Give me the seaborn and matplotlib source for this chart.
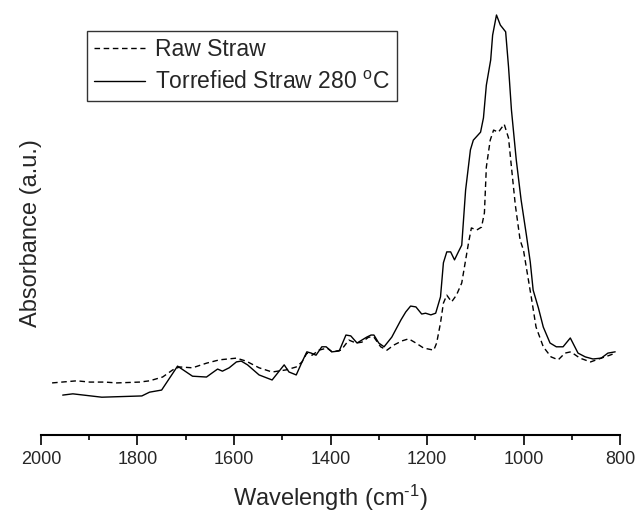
import numpy as np
import pandas as pd
import matplotlib
matplotlib.use("Agg")
import matplotlib.pyplot as plt
import seaborn as sns

# --- data ---
raw_wn = [1977, 1926, 1899, 1868, 1843, 1796, 1775, 1748, 1727, 1713, 1686, 1657, 1630,
          1595, 1575, 1548, 1521, 1492, 1471, 1459, 1449, 1438, 1424, 1407, 1397, 1378,
          1362, 1347, 1335, 1321, 1310, 1296, 1283, 1269, 1252, 1238, 1223, 1207, 1186,
          1180, 1172, 1166, 1159, 1149, 1139, 1128, 1114, 1108, 1097, 1087, 1081, 1077,
          1069, 1062, 1052, 1040, 1031, 1025, 1017, 1007, 1000, 994, 984, 974, 959, 943,
          928, 914, 902, 883, 861, 839, 821, 810]
raw_abs = [0.124, 0.129, 0.126, 0.126, 0.124, 0.126, 0.129, 0.138, 0.155, 0.162, 0.160,
           0.171, 0.179, 0.183, 0.176, 0.160, 0.150, 0.155, 0.162, 0.174, 0.195, 0.190,
           0.202, 0.207, 0.198, 0.202, 0.226, 0.219, 0.221, 0.233, 0.233, 0.210, 0.202,
           0.214, 0.224, 0.229, 0.219, 0.207, 0.202, 0.219, 0.267, 0.314, 0.333, 0.317,
           0.333, 0.362, 0.457, 0.493, 0.488, 0.495, 0.529, 0.638, 0.702, 0.726, 0.721,
           0.740, 0.707, 0.638, 0.548, 0.464, 0.440, 0.398, 0.329, 0.257, 0.210, 0.186,
           0.179, 0.195, 0.198, 0.183, 0.174, 0.183, 0.190, 0.195]

tor_wn = [1955, 1934, 1874, 1791, 1775, 1750, 1717, 1686, 1657, 1645, 1634, 1624, 1610,
          1595, 1585, 1572, 1548, 1521, 1496, 1486, 1471, 1459, 1449, 1440, 1430, 1418,
          1409, 1397, 1382, 1368, 1358, 1345, 1335, 1325, 1316, 1310, 1300, 1289, 1273,
          1254, 1244, 1234, 1223, 1211, 1203, 1192, 1182, 1172, 1166, 1159, 1151, 1143,
          1135, 1128, 1120, 1110, 1104, 1089, 1083, 1077, 1068, 1064, 1056, 1048, 1037,
          1031, 1025, 1015, 1005, 994, 986, 980, 969, 959, 945, 932, 918, 903, 887, 872,
          856, 839, 825, 810]
tor_abs = [0.095, 0.098, 0.090, 0.093, 0.102, 0.107, 0.164, 0.140, 0.138, 0.148, 0.157,
           0.152, 0.160, 0.174, 0.176, 0.167, 0.143, 0.131, 0.167, 0.150, 0.143, 0.174,
           0.198, 0.195, 0.190, 0.210, 0.210, 0.198, 0.200, 0.238, 0.236, 0.219, 0.226,
           0.233, 0.238, 0.238, 0.219, 0.210, 0.233, 0.274, 0.293, 0.307, 0.305, 0.288,
           0.290, 0.286, 0.290, 0.329, 0.410, 0.436, 0.436, 0.417, 0.436, 0.452, 0.583,
           0.679, 0.702, 0.721, 0.755, 0.833, 0.893, 0.952, 1.000, 0.976, 0.960, 0.876,
           0.774, 0.655, 0.560, 0.476, 0.412, 0.345, 0.302, 0.257, 0.219, 0.210, 0.210,
           0.231, 0.195, 0.186, 0.181, 0.183, 0.195, 0.198]

labels = ["Raw Straw", "Torrefied Straw 280 $^{\\mathrm{o}}$C"]
x_ticks = [2000, 1800, 1600, 1400, 1200, 1000, 800]

sns.set_style("white")
plt.rcParams['font.family'] = ['Liberation Sans', 'DejaVu Sans']
plt.rcParams['mathtext.fontset'] = 'custom'
plt.rcParams['mathtext.rm'] = 'Liberation Sans'
plt.rcParams['mathtext.it'] = 'Liberation Sans:italic'
plt.rcParams['mathtext.bf'] = 'Liberation Sans:bold'

raw_df = pd.DataFrame({"wn": raw_wn, "abs": raw_abs})
tor_df = pd.DataFrame({"wn": tor_wn, "abs": tor_abs})

fig = plt.figure(figsize=(6.36, 5.12), dpi=100)
ax = fig.add_axes([41/636, 77/512, 579/636, 435/512])

sns.lineplot(data=raw_df, x="wn", y="abs", ax=ax, color="black", lw=1.0,
             linestyle=(0, (4, 2.6)), sort=False, estimator=None, label=labels[0])
sns.lineplot(data=tor_df, x="wn", y="abs", ax=ax, color="black", lw=1.0,
             sort=False, estimator=None, label=labels[1])

ax.set_xlim(2000, 800)
ax.set_ylim(0, 435/420)
ax.set_xticks(x_ticks)
ax.set_xticks(np.arange(1900, 800, -200), minor=True)
ax.set_yticks([])
for s in ["top", "right", "left"]:
    ax.spines[s].set_visible(False)
ax.spines["bottom"].set_linewidth(1.5)
ax.spines["bottom"].set_color("black")
ax.tick_params(axis="x", which="major", direction="out", length=7, width=1.2,
               labelsize=13, pad=4.5, bottom=True, color="black")
ax.tick_params(axis="x", which="minor", direction="out", length=3.5, width=1.2,
               bottom=True, color="black")

ax.set_xlabel("Wavelength (cm$^{\\text{-}1}$)", fontsize=17, labelpad=11)
ax.set_ylabel("Absorbance (a.u.)", fontsize=17)
ax.yaxis.set_label_coords(0.002, 0.464)

leg = ax.legend(loc="upper left", bbox_to_anchor=(87/636, 1 - 31/512),
                bbox_transform=fig.transFigure, fontsize=16.5, frameon=True,
                fancybox=False, edgecolor="black", borderpad=0.3,
                handlelength=2.25, handletextpad=0.42, labelspacing=0.45,
                borderaxespad=0)
leg.get_frame().set_linewidth(1.0)

fig.savefig("out.png", dpi=100)
